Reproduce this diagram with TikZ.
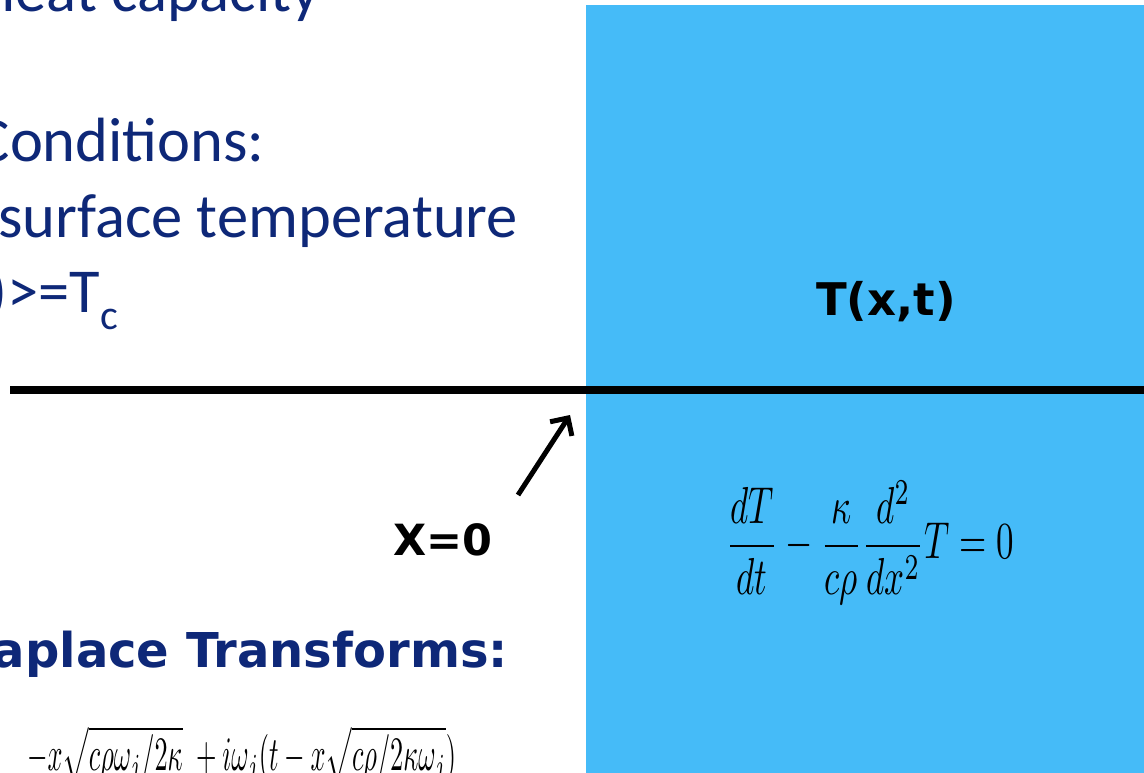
\documentclass[tikz,border=0pt]{standalone}
\usepackage{fontspec}
\setmainfont{Carlito}
\newfontfamily\headfont{DejaVu Sans}
\usepackage{xcolor}
\usepackage{tikz}
\usetikzlibrary{arrows.meta, positioning}
\definecolor{slideblue}{RGB}{14,40,120}
\definecolor{sky}{RGB}{69,187,248}
\tikzstyle{slidetext} = [inner sep=0pt, text=slideblue, font=\fontsize{62.5}{75}\selectfont]
\tikzstyle{headtext} = [inner sep=0pt, text=slideblue, font=\headfont\bfseries\fontsize{48}{56}\selectfont]
\tikzstyle{label} = [inner sep=0pt, font=\headfont\bfseries\fontsize{43}{48}\selectfont]
\tikzstyle{arrow} = [line width=5pt, -{Straight Barb[length=13pt, width=26pt]}]

\begin{document}
\begin{tikzpicture}[x=1pt, y=-1pt]
        \useasboundingbox (0,0) rectangle (1144,773);
        \clip (0,0) rectangle (1144,773);
        % the solid below the surface
        \fill [sky] (586,5) rectangle (1160,790);
        \node (field) [label, font=\headfont\bfseries\fontsize{45}{50}\selectfont] at (886,302) {T(x,t)};
        \node (heateq) at (870,543) {\scalebox{3.5}[5.2]{$\displaystyle \frac{dT}{dt}-\frac{\kappa}{c\rho}\frac{d^2}{dx^2}T=0$}};
        % surface line
        \coordinate (surfl) at (10,390);
        \coordinate (surfr) at (1150,390);
        \draw [line width=8pt] (surfl) -- (surfr);
        % slide text, cut at the left edge
        \node (heatcap) [slidetext, anchor=base east] at (320,12) {heat capacity};
        \node (cond) [slidetext, anchor=base east] at (265,162) {Conditions:};
        \node (surftemp) [slidetext, anchor=base east] at (518,237) {surface temperature};
        \node (tc) [slidetext, anchor=base east] at (118,312) {)>=T\raisebox{-0.28em}{\fontsize{42}{42}\selectfont c}};
        \node (laplace) [headtext, anchor=base east] at (508,667) {aplace Transforms:};
        \node (soln) [anchor=base west, inner sep=0pt] at (27,770) {\scalebox{2.63}[4.8]{$-x\sqrt{c\rho\omega_j/2\kappa}\;+i\omega_j(t-x\sqrt{c\rho/2\kappa\omega_j})$}};
        % x = 0 marker
        \node (xzero) [label] at (443,540) {X=0};
        \coordinate (tail) at (518,495);
        \coordinate (tip) at (570,415);
        \draw [arrow] (tail) -- (tip);
    \end{tikzpicture}
\end{document}
